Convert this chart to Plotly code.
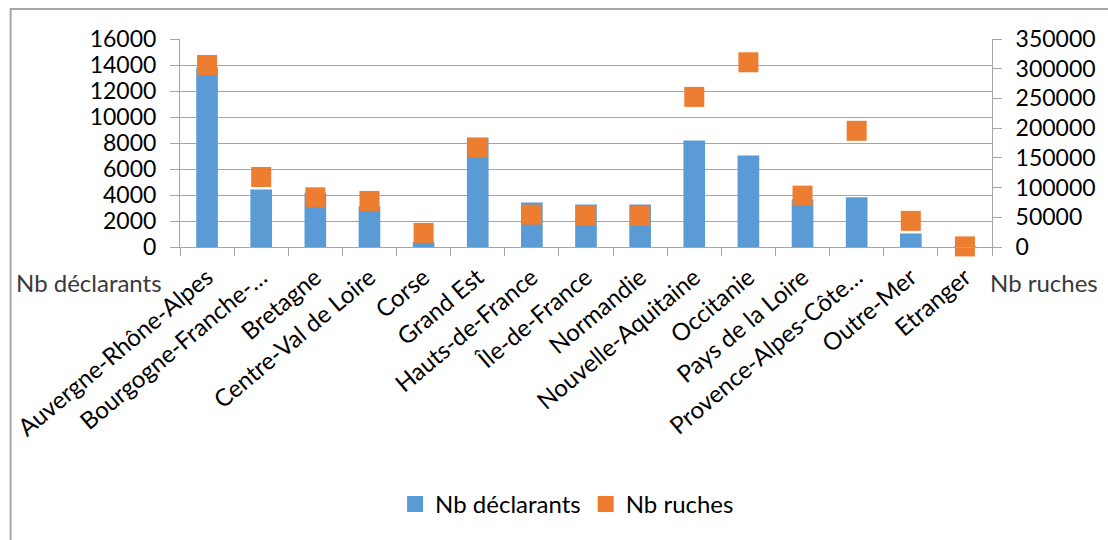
import plotly.graph_objects as go

regions = ["Auvergne-Rhône-Alpes", "Bourgogne-Franche-…", "Bretagne", "Centre-Val de Loire",
           "Corse", "Grand Est", "Hauts-de-France", "Île-de-France", "Normandie",
           "Nouvelle-Aquitaine", "Occitanie", "Pays de la Loire", "Provence-Alpes-Côte…",
           "Outre-Mer", "Etranger"]
nb_declarants = [13800, 4420, 4170, 3140, 370, 8400, 3420, 3270, 3260, 8190, 7040, 3650, 3830, 1040, 20]
nb_ruches = [306300, 117800, 83600, 77500, 23800, 167300, 54500, 53400, 52400, 252600, 310800,
             86400, 195500, 44000, 1000]

left_ticks = list(range(0, 16001, 2000))
right_ticks = list(range(0, 350001, 50000))

BLUE = "#5B9BD5"
ORANGE = "#ED7D31"
GRID = "#A6A6A6"
FONT = "Lato"

fig = go.Figure()
fig.add_trace(go.Bar(x=regions, y=nb_declarants, name="Nb déclarants", marker_color=BLUE,
                     marker_line_width=0, showlegend=False))
fig.add_trace(go.Scatter(x=regions, y=nb_ruches, name="Nb ruches", mode="markers", yaxis="y2",
                         marker=dict(symbol="square", size=20, color=ORANGE, line_width=0),
                         cliponaxis=False, showlegend=False))
# legend entries
fig.add_trace(go.Scatter(x=[None], y=[None], name="Nb déclarants", mode="markers",
                         marker=dict(symbol="square", size=16, color=BLUE)))
fig.add_trace(go.Scatter(x=[None], y=[None], name="Nb ruches", mode="markers",
                         marker=dict(symbol="square", size=16, color=ORANGE)))

fig.update_layout(
    width=1108, height=540,
    margin=dict(l=179, r=114, t=39, b=292.5),
    paper_bgcolor="white", plot_bgcolor="white",
    font=dict(family=FONT, size=24, color="#000000"),
    bargap=0.6,
    xaxis=dict(range=[-0.5, len(regions) - 0.5], autorange=False,
               showline=True, linecolor=GRID, linewidth=1, ticks="outside", tickson="boundaries",
               ticklen=8, tickcolor=GRID, tickangle=-40, showgrid=False,
               ticklabelstandoff=6,
               tickfont=dict(family=FONT, size=24, color="#000000")),
    yaxis=dict(range=[0, 16000], tickvals=left_ticks, tickformat="d", showline=True,
               linecolor=GRID, linewidth=1, ticks="outside", ticklen=9, tickcolor=GRID,
               showgrid=True, gridcolor=GRID, gridwidth=1, zeroline=False,
               ticklabelstandoff=9,
               tickfont=dict(family=FONT, size=23, color="#000000")),
    yaxis2=dict(range=[0, 350000], tickvals=right_ticks, tickformat="d", overlaying="y",
                side="right", showline=True, linecolor=GRID, linewidth=1, ticks="outside",
                ticklen=9, tickcolor=GRID, showgrid=False, zeroline=False,
                ticklabelstandoff=9,
                tickfont=dict(family=FONT, size=23, color="#000000")),
    legend=dict(orientation="h", x=0.4767, y=-1.237, xanchor="center", yanchor="middle",
                font=dict(family=FONT, size=24, color="#000000"), itemwidth=30),
    annotations=[
        dict(text="Nb déclarants", xref="paper", yref="paper", x=-0.0196, y=-0.17,
             xanchor="right", yanchor="middle", showarrow=False,
             font=dict(family=FONT, size=24, color="#3A3A3A")),
        dict(text="Nb ruches", xref="paper", yref="paper", x=0.995, y=-0.17,
             xanchor="left", yanchor="middle", showarrow=False,
             font=dict(family=FONT, size=24, color="#3A3A3A")),
    ],
    shapes=[dict(type="rect", xref="paper", yref="paper", x0=-0.2086, x1=1.2, y0=-1.5, y1=1.1439,
                 line=dict(color="#A6A6A6", width=2), layer="below")],
)

fig.write_html("out.html", config={"displayModeBar": False},
               post_script="document.body.style.margin='0px';document.body.style.overflow='hidden';")
